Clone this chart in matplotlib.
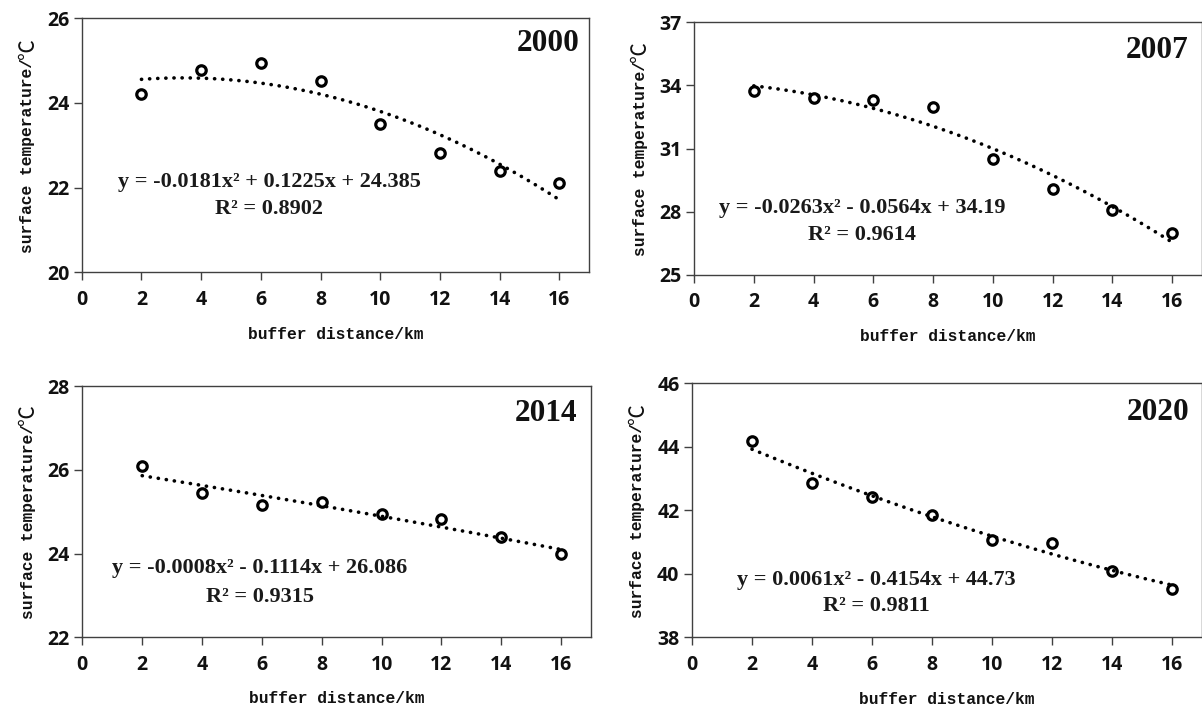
import numpy as np
import matplotlib
matplotlib.use("Agg")
import matplotlib.pyplot as plt

# ---- data ----
distance = [2, 4, 6, 8, 10, 12, 14, 16]
years = ["2000", "2007", "2014", "2020"]
temp_2000 = [24.20, 24.78, 24.95, 24.53, 23.50, 22.82, 22.40, 22.10]
temp_2007 = [33.75, 33.40, 33.32, 32.97, 30.48, 29.07, 28.10, 26.99]
temp_2014 = [26.09, 25.44, 25.16, 25.23, 24.95, 24.82, 24.39, 24.00]
temp_2020 = [44.17, 42.87, 42.43, 41.84, 41.06, 40.98, 40.10, 39.52]
# trend-line coefficients as printed (a, b, c) for y = a x^2 + b x + c
coef_2000 = [-0.0181, 0.1225, 24.385]
coef_2007 = [-0.0263, -0.0564, 34.19]
coef_2014 = [-0.0008, -0.1114, 26.086]
coef_2020 = [0.0061, -0.4154, 44.73]
eq_text = ["y = -0.0181x\u00b2 + 0.1225x + 24.385",
           "y = -0.0263x\u00b2 - 0.0564x + 34.19",
           "y = -0.0008x\u00b2 - 0.1114x + 26.086",
           "y = 0.0061x\u00b2 - 0.4154x + 44.73"]
r2_text = ["R\u00b2 = 0.8902", "R\u00b2 = 0.9614", "R\u00b2 = 0.9315", "R\u00b2 = 0.9811"]
x_ticks = [0, 2, 4, 6, 8, 10, 12, 14, 16]
y_ticks = [[20, 22, 24, 26], [25, 28, 31, 34, 37], [22, 24, 26, 28], [38, 40, 42, 44, 46]]
x_label = "buffer distance/km"
y_label = "surface temperature/"
y_unit = "\u2103"

temps = [temp_2000, temp_2007, temp_2014, temp_2020]
coefs = [coef_2000, coef_2007, coef_2014, coef_2020]

# ---- layout (figure fractions) ----
positions = [
    [0.0680, 0.6154, 0.4223, 0.3588],
    [0.5774, 0.6116, 0.4226, 0.3573],
    [0.0685, 0.0996, 0.4232, 0.3552],
    [0.5757, 0.0998, 0.4243, 0.3588],
]
eq_pos = [(0.369, 0.3555, 0.249), (0.331, 0.265, 0.158),
          (0.349, 0.276, 0.161), (0.361, 0.2256, 0.123)]
year_pos = [(0.980, 0.899), (0.974, 0.889), (0.974, 0.891), (0.975, 0.885)]

spine_c = "#404040"
tick_font = dict(family="Open Sans", weight="bold", size=14)
mono = ["Liberation Mono", "DejaVu Sans Mono"]

fig = plt.figure(figsize=(12.02, 7.08), dpi=100)
axes = []
for i in range(4):
    ax = fig.add_axes(positions[i])
    axes.append(ax)
    x = np.array(distance, dtype=float)
    a, b, c = coefs[i]
    xs = np.linspace(min(distance), max(distance), 200)
    ax.plot(x, temps[i], linestyle="none", marker="o", ms=6.8, mew=2.3,
            mfc="white", mec="black", zorder=3)
    ax.plot(xs, a * xs ** 2 + b * xs + c, color="black", lw=2.6,
            linestyle=(0, (0.05, 2.2)), dash_capstyle="round", zorder=4)

    ax.set_xlim(0, 17)
    ax.set_ylim(y_ticks[i][0], y_ticks[i][-1])
    ax.set_xticks(x_ticks)
    ax.set_yticks(y_ticks[i])
    ax.set_xticklabels([str(t) for t in x_ticks], **tick_font)
    ax.set_yticklabels([str(t) for t in y_ticks[i]], **tick_font)
    ax.tick_params(direction="out", length=6, width=1.0, color=spine_c,
                   labelcolor="#111111")
    ax.tick_params(axis="x", pad=6.5)
    ax.tick_params(axis="y", pad=3)
    for s in ax.spines.values():
        s.set_color(spine_c)
        s.set_linewidth(1.0)

    ax.set_xlabel(x_label, family=mono, weight="bold", size=11.7, color="#111111")
    ax.xaxis.set_label_coords(0.5, -62 / 254)
    ax.xaxis.label.set_verticalalignment("center")
    ax.set_ylabel(y_label, family=mono, weight="bold", size=11.7, color="#111111")
    ax.yaxis.set_label_coords(-54 / 508, 0.46)
    ax.yaxis.label.set_verticalalignment("center")

    ex, ey, ry = eq_pos[i]
    ax.text(ex, ey, eq_text[i], transform=ax.transAxes, ha="center", va="center",
            family="Liberation Serif", weight="bold", size=16, color="#1a1a1a")
    ax.text(ex, ry, r2_text[i], transform=ax.transAxes, ha="center", va="center",
            family="Liberation Serif", weight="bold", size=16, color="#1a1a1a")
    yx, yy = year_pos[i]
    ax.text(yx, yy, years[i], transform=ax.transAxes, ha="right", va="center",
            family="Liberation Serif", weight="bold", size=22.5, color="#111111")

# attach the full-width degree-Celsius sign to the end of each y label
fig.canvas.draw()
renderer = fig.canvas.get_renderer()
for ax in axes:
    bb = ax.yaxis.label.get_window_extent(renderer)
    xc = (bb.x0 + bb.x1) / 2
    fig.text(xc / fig.bbox.width, (bb.y1 - 1) / fig.bbox.height, y_unit,
             rotation=90, ha="center", va="bottom",
             family=["Noto Sans CJK SC", "DejaVu Sans"], size=15, color="#111111")

fig.savefig("out.png", dpi=100)
